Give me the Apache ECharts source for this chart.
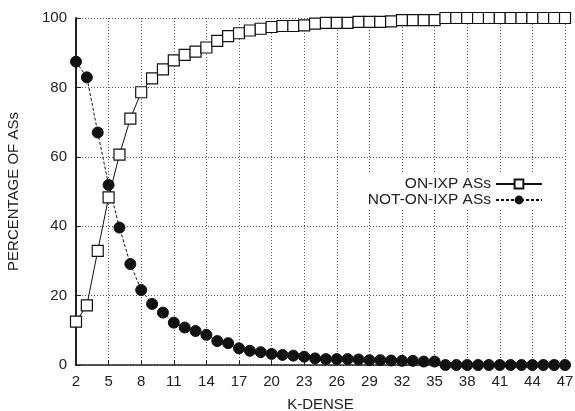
<!DOCTYPE html>
<html>
<head>
<meta charset="utf-8">
<script src="https://cdn.jsdelivr.net/npm/echarts@6/dist/echarts.min.js"></script>
<style>
	html, body { margin: 0; padding: 0; background: #fff; }
	#chart { width: 575px; height: 411px; }
</style>
</head>
<body>
<div id="chart"></div>
<script>
	// k values on the x axis
	var kDense = [2, 3, 4, 5, 6, 7, 8, 9, 10, 11, 12, 13, 14, 15, 16, 17, 18, 19, 20, 21, 22, 23, 24,
		25, 26, 27, 28, 29, 30, 31, 32, 33, 34, 35, 36, 37, 38, 39, 40, 41, 42, 43, 44, 45, 46, 47];
	// percentage of ASs that are on an IXP
	var onIxp = [12.5, 17.2, 32.9, 48.3, 60.6, 71.0, 78.6, 82.6, 85.2, 87.8, 89.4, 90.3, 91.5, 93.4,
		94.8, 95.6, 96.4, 96.9, 97.4, 97.7, 97.7, 97.9, 98.4, 98.6, 98.6, 98.6, 98.9, 98.9, 98.9, 99.0,
		99.4, 99.4, 99.4, 99.4, 100, 100, 100, 100, 100, 100, 100, 100, 100, 100, 100, 100];
	// percentage of ASs that are not on an IXP
	var notOnIxp = [87.4, 82.9, 67.0, 51.9, 39.6, 29.1, 21.6, 17.6, 15.1, 12.2, 10.8, 9.8, 8.7, 6.9,
		6.3, 4.8, 4.1, 3.7, 3.2, 2.9, 2.7, 2.4, 1.9, 1.7, 1.7, 1.7, 1.6, 1.4, 1.4, 1.3,
		1.2, 1.2, 1.0, 1.0, 0, 0, 0, 0, 0, 0, 0, 0, 0, 0, 0, 0];

	function pairs(xs, ys) {
		var out = [];
		for (var i = 0; i < xs.length; i++) {
			out.push([xs[i], ys[i]]);
		}
		return out;
	}

	var font = 'Liberation Sans, Arial, sans-serif';
	var chart = echarts.init(document.getElementById('chart'));
	var gridLine = {
		show: true,
		lineStyle: { color: '#555', type: [1, 2], width: 1 }
	};
	var option = {
		backgroundColor: '#fff',
		animation: false,
		grid: { left: 76, right: 10, top: 18, bottom: 46, outerBoundsMode: 'none', containLabel: false },
		legend: {
			right: 28,
			top: 174,
			orient: 'vertical',
			align: 'right',
			itemWidth: 46,
			itemHeight: 11,
			itemGap: 0,
			padding: [2, 4, 2, 4],
			backgroundColor: '#fff',
			textStyle: { fontFamily: font, fontSize: 15.5, lineHeight: 15, color: '#222' },
			data: ['ON-IXP ASs', 'NOT-ON-IXP ASs']
		},
		xAxis: {
			type: 'value',
			min: 2,
			max: 47,
			interval: 3,
			name: 'K-DENSE',
			nameLocation: 'middle',
			nameGap: 32,
			nameTextStyle: { fontFamily: font, fontSize: 15, color: '#222' },
			axisLine: { lineStyle: { color: '#222', width: 1.5 } },
			axisTick: { inside: true, length: 5, lineStyle: { color: '#222' } },
			axisLabel: { fontFamily: font, fontSize: 15, color: '#222', margin: 9 },
			splitLine: gridLine
		},
		yAxis: {
			type: 'value',
			min: 0,
			max: 100,
			interval: 20,
			name: 'PERCENTAGE OF ASs',
			nameLocation: 'middle',
			nameGap: 55,
			nameTextStyle: { fontFamily: font, fontSize: 15, color: '#222' },
			axisLine: { show: true, lineStyle: { color: '#222', width: 2 } },
			axisTick: { show: true, inside: true, length: 5, lineStyle: { color: '#222' } },
			axisLabel: { fontFamily: font, fontSize: 15, color: '#222', margin: 9 },
			splitLine: gridLine
		},
		series: [{
			name: 'ON-IXP ASs',
			type: 'line',
			z: 3,
			data: pairs(kDense, onIxp),
			symbol: 'rect',
			symbolSize: 11,
			lineStyle: { color: '#111', width: 1 },
			itemStyle: { color: '#fff', borderColor: '#111', borderWidth: 1.2 }
		}, {
			name: 'NOT-ON-IXP ASs',
			type: 'line',
			z: 2,
			data: pairs(kDense, notOnIxp),
			symbol: 'circle',
			symbolSize: 11,
			lineStyle: { color: '#111', width: 1, type: [3, 2] },
			itemStyle: { color: '#111', borderColor: '#111' }
		}]
	};
	chart.setOption(option);
</script>
</body>
</html>
